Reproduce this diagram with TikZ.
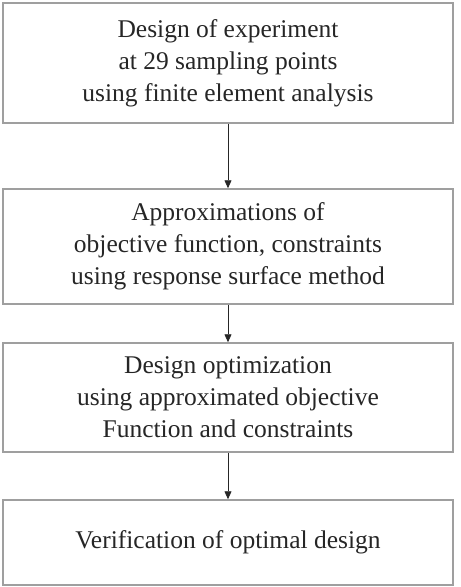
\documentclass[tikz,border=0pt]{standalone}
\usepackage{fontspec}
\setmainfont{Liberation Serif}
\usepackage{tikz}
\usetikzlibrary{arrows.meta, positioning}
\tikzset{
  stagebox/.style={
    draw=gray!75,
    line width=1.5pt,
    minimum width=450pt,
    align=center,
    inner sep=0pt,
    text=black!85,
    font=\fontsize{25.5pt}{32pt}\selectfont
  },
  flow/.style={
    -{Triangle[length=8pt, width=7pt]},
    line width=0.8pt,
    color=black!85
  }
}
\begin{document}
\begin{tikzpicture}[x=1pt, y=1pt]
    % page frame (pixels of the reference)
    \useasboundingbox (0, 0) rectangle (461, -587);

    % the four stages
    \node[stagebox, minimum height=120pt] (doe) at (228, -63)
      {Design of experiment\\at 29 sampling points\\using finite element analysis};
    \node[stagebox, minimum height=115pt] (rsm) at (228, -246.5)
      {Approximations of\\objective function, constraints\\using response surface method};
    \node[stagebox, minimum height=109pt] (opt) at (228, -397.5)
      {Design optimization\\using approximated objective\\Function and constraints};
    \node[stagebox, minimum height=85pt] (ver) at (228, -542.5)
      {Verification of optimal design};

    % connectors
    \draw[flow] (doe.south) -- (rsm.north);
    \draw[flow] (rsm.south) -- (opt.north);
    \draw[flow] (opt.south) -- (ver.north);
\end{tikzpicture}
\end{document}
